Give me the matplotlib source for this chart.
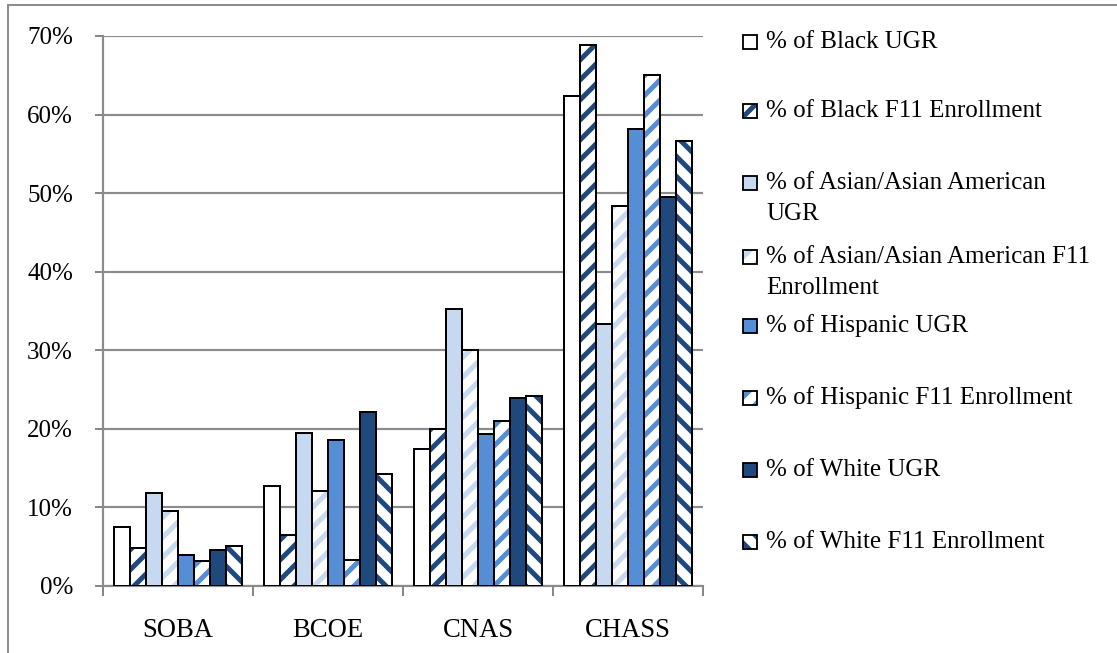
import numpy as np
import matplotlib
matplotlib.use('Agg')
import matplotlib.pyplot as plt
from matplotlib.patches import Rectangle

plt.rcParams['font.family'] = ['Liberation Serif', 'DejaVu Serif']
plt.rcParams['hatch.linewidth'] = 3.0

colleges = ['SOBA', 'BCOE', 'CNAS', 'CHASS']

black_ugr = [7.5, 12.7, 17.4, 62.4]
black_f11 = [4.8, 6.5, 20.0, 68.8]
asian_ugr = [11.9, 19.5, 35.3, 33.3]
asian_f11 = [9.5, 12.1, 30.1, 48.4]
hispanic_ugr = [3.9, 18.6, 19.3, 58.2]
hispanic_f11 = [3.2, 3.3, 21.0, 65.0]
white_ugr = [4.6, 22.1, 23.9, 49.5]
white_f11 = [5.1, 14.2, 24.2, 56.6]

labels = ['% of Black UGR', '% of Black F11 Enrollment',
          '% of Asian/Asian American\nUGR',
          '% of Asian/Asian American F11\nEnrollment',
          '% of Hispanic UGR', '% of Hispanic F11 Enrollment',
          '% of White UGR', '% of White F11 Enrollment']
series = [black_ugr, black_f11, asian_ugr, asian_f11,
          hispanic_ugr, hispanic_f11, white_ugr, white_f11]

navy = '#1F497D'
light = '#C6D9F1'
mid = '#558ED5'
# (face colour, hatch, hatch colour)
styles = [('white', None, None),
          ('white', '//', navy),
          (light, None, None),
          ('white', '//', light),
          (mid, None, None),
          ('white', '//', mid),
          (navy, None, None),
          ('white', '\\\\', navy)]

W, H, DPI = 1117, 653, 120
fig = plt.figure(figsize=(W / DPI, H / DPI), dpi=DPI)
ax = fig.add_axes([103 / W, 1 - 586 / H, 600 / W, 550 / H])

x = np.arange(len(colleges))
width = 0.107
for i, (vals, (fc, hatch, hc)) in enumerate(zip(series, styles)):
    pos = x - 4 * width + width / 2 + i * width
    if hatch:
        ax.bar(pos, vals, width, color=fc, hatch=hatch, edgecolor=hc,
               linewidth=0, zorder=3)
        ax.bar(pos, vals, width, fill=False, edgecolor='black',
               linewidth=1.2, zorder=4)
    else:
        ax.bar(pos, vals, width, color=fc, edgecolor='black',
               linewidth=1.2, zorder=3)

ax.set_xlim(-0.5, 3.5)
ax.set_ylim(0, 70)
ax.set_yticks(np.arange(0, 71, 10))
ax.set_yticklabels([f'{v}%' for v in range(0, 71, 10)])
ax.set_xticks(x)
ax.set_xticklabels(colleges)
ax.set_xticks(np.arange(-0.5, 4, 1), minor=True)
ax.tick_params(axis='x', which='major', length=0, labelsize=16, pad=19)
ax.tick_params(axis='x', which='minor', length=6, color='#888888', width=1.2)
ax.tick_params(axis='y', length=5, color='#888888', width=1.2,
               labelsize=15, pad=13)
ax.grid(axis='y', color='#8c8c8c', linewidth=1.3, zorder=0)
for s in ['top', 'right']:
    ax.spines[s].set_visible(False)
for s in ['left', 'bottom']:
    ax.spines[s].set_color('#8c8c8c')
    ax.spines[s].set_linewidth(1.3)

# legend drawn by hand to match the wrapped layout
ys = [42, 111, 183, 257, 326, 398, 470, 542]
for lab, (fc, hatch, hc), y in zip(labels, styles, ys):
    bx = Rectangle((743 / W, 1 - (y + 7) / H), 14 / W, 14 / H,
                   transform=fig.transFigure, facecolor=fc,
                   hatch=hatch, edgecolor=hc if hatch else 'black',
                   linewidth=0 if hatch else 1.1)
    fig.patches.append(bx)
    if hatch:
        fig.patches.append(Rectangle((743 / W, 1 - (y + 7) / H), 14 / W, 14 / H,
                                     transform=fig.transFigure, fill=False,
                                     edgecolor='black', linewidth=1.1))
    for k, line in enumerate(lab.split('\n')):
        fig.text(766 / W, 1 - (y + 31 * k) / H, line, fontsize=15,
                 va='center', ha='left')

# chart border, cut off at the right and bottom edges
fig.patches.append(Rectangle((8 / W, -0.1), 1.2, 1 - 5 / H + 0.1,
                             transform=fig.transFigure, fill=False,
                             edgecolor='#8c8c8c', linewidth=1.2))

fig.savefig('out.png', dpi=DPI, facecolor='white')
